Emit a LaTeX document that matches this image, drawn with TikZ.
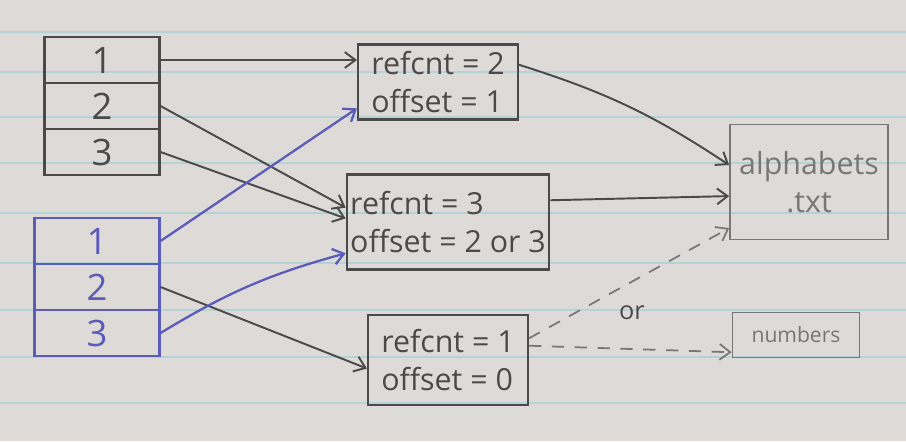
\documentclass[tikz,border=0pt]{standalone}
\usepackage{fontspec}
\setmainfont{Open Sans}
\usetikzlibrary{arrows.meta}
\definecolor{pencil}{HTML}{4A4A4A}
\definecolor{bluepen}{HTML}{5B5BB8}
\definecolor{paper}{HTML}{DEDAD7}
\definecolor{rule}{HTML}{B3D3D5}
\begin{document}
\begin{tikzpicture}[
  x=0.02cm, y=-0.02cm,
  >={Straight Barb[length=6pt, width=9pt]},
  every node/.style={font=\Large, text=pencil},
  cell/.style={rectangle, draw=pencil, line width=1.2pt, minimum width=2.3cm, minimum height=0.92cm, font=\huge},
  bcell/.style={cell, draw=bluepen, text=bluepen, minimum width=2.5cm},
  cnt/.style={rectangle, draw=pencil, line width=1.2pt, align=left, inner sep=2pt, font=\LARGE},
  file/.style={rectangle, draw=pencil!75, line width=1pt, align=center, text=pencil!75},
  seta/.style={->, line width=1.1pt, draw=pencil},
  bseta/.style={->, line width=1.3pt, draw=bluepen},
  dseta/.style={->, line width=1pt, dash pattern=on 7pt off 6pt, draw=pencil!75}
]
\useasboundingbox (0,0) rectangle (906,441);
% papel pautado
\fill[paper] (0,0) rectangle (906,441);
\foreach \y in {32,72,117,163,213,263,310,357,403}
  \draw[rule, line width=0.7pt] (0,\y) -- (906,\y);

% tabela de cima (preta)
\node[cell] (t1) at (102,60) {1};
\node[cell] (t2) at (102,106) {2};
\node[cell] (t3) at (102,152) {3};

% tabela de baixo (azul)
\node[bcell] (b1) at (97,241) {1};
\node[bcell] (b2) at (97,287) {2};
\node[bcell] (b3) at (97,333) {3};

% contadores de referência
\node[cnt, minimum width=3.2cm, minimum height=1.5cm] (ra) at (438,82) {refcnt = 2\\offset = 1};
\node[cnt, minimum width=3.36cm, minimum height=1.9cm] (rb) at (448,222) {refcnt = 3\\offset = 2 or 3};
\node[cnt, minimum width=3.2cm, minimum height=1.8cm] (rc) at (448,360) {refcnt = 1\\offset = 0};

% ficheiros
\node[file, minimum width=3.16cm, minimum height=2.3cm, font=\LARGE] (alpha) at (809,182) {alphabets\\.txt};
\node[file, minimum width=2.54cm, minimum height=0.9cm, font=\large] (num) at (796,335) {numbers};

% setas
\draw[seta] (t1.east) -- (t1.east -| ra.west);
\draw[seta] (t2.east) -- (rb.172);
\draw[seta] (t3.east) -- (rb.178);
\draw[bseta] (b1.east) -- (ra.198);
\draw[seta] (b2.east) -- (rc.186);
\draw[bseta] (b3.east) to[bend left=8] (rb.197);
\draw[seta] (ra.12) to[bend left=8] (alpha.168);
\draw[seta] (rb.12) -- (alpha.190);
\draw[dseta] (rc.15) -- (alpha.210);
\node (or) at (632,313) {or};
\draw[dseta] (rc.10) -- (num.195);
\end{tikzpicture}
\end{document}
